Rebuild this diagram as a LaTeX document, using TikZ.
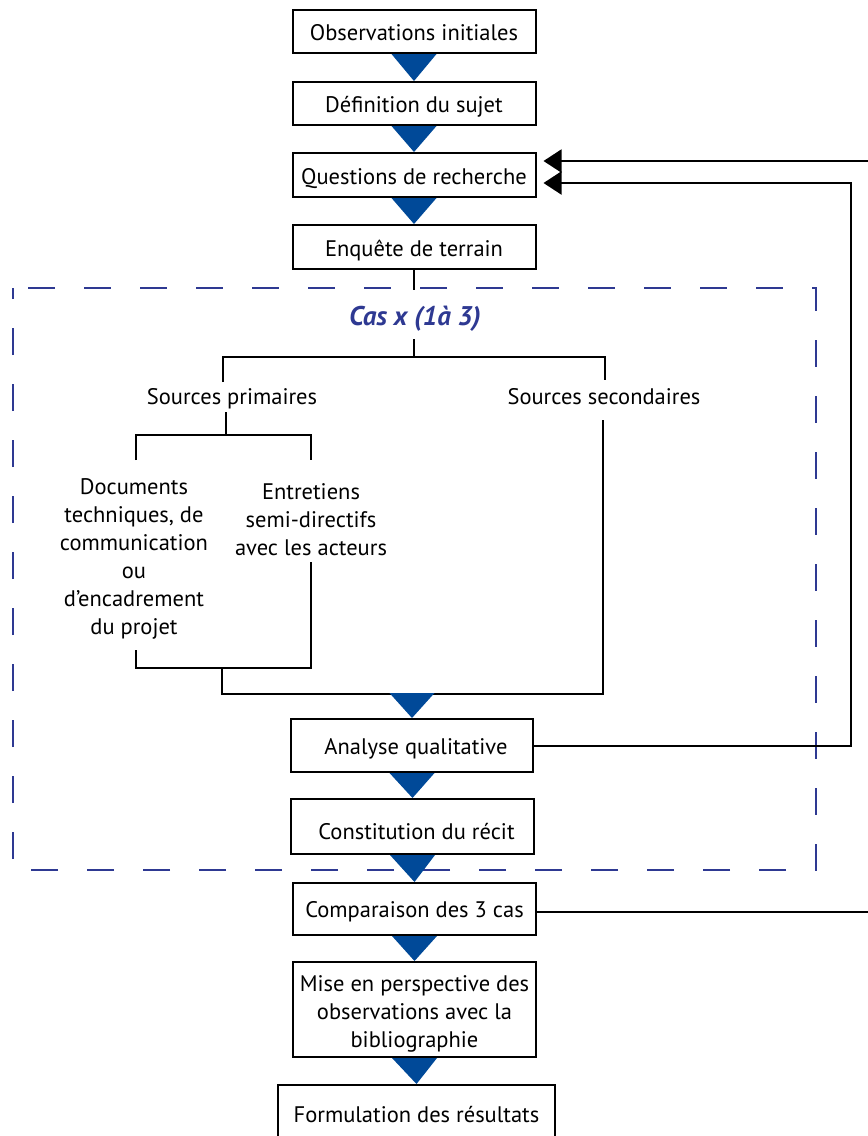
\documentclass[tikz,border=0pt]{standalone}
\usepackage{fontspec}
\setmainfont{PT Sans}
\usetikzlibrary{arrows.meta,calc}
\definecolor{triblue}{RGB}{0,73,152}
\definecolor{navy}{RGB}{46,57,146}
\newcommand{\lowerby}[2]{\raisebox{-#1}[\height][\depth]{#2}}
\begin{document}
\begin{tikzpicture}[x=1pt,y=-1pt,
  txt/.style={font=\fontsize{22.5}{28}\selectfont, inner sep=0pt, align=center},
  box/.style={draw=black, line width=2pt, minimum width=243pt, inner sep=0pt,
              font=\fontsize{22.5}{28}\selectfont, align=center},
  one/.style={text height=20pt, text depth=2pt},
  wire/.style={line width=2pt, black},
  tri/.style={fill=triblue},
  back/.style={wire, -{Triangle[length=18pt,width=23pt]}},
  dashbox/.style={draw=navy, line width=2pt, dash pattern=on 27pt off 29pt, dash phase=41pt}
]
\useasboundingbox (0,0) rectangle (868,1136);

% dashed frame
\draw[dashbox] (13,288) -- (816,288) -- (816,870) -- (13,870) -- cycle;

% main boxes
\node[box, one, minimum height=43pt] (b1) at (414,31.5) {Observations initiales};
\node[box, one, minimum height=43pt] (b2) at (414,103.5) {Définition du sujet};
\node[box, one, minimum height=44pt] (b3) at (414,175) {Questions de recherche};
\node[box, one, minimum height=44pt] (b4) at (414,247) {Enquête de terrain};
\node[box, minimum width=242pt, minimum height=53pt] (b5) at (412,745.5) {\lowerby{3pt}{\hspace{8pt}Analyse qualitative}};
\node[box, minimum height=55pt] (b6) at (412.5,826.5) {\lowerby{5pt}{\hspace{8pt}Constitution du récit}};
\node[box, minimum height=52pt] (b7) at (414.5,909) {\lowerby{3pt}{Comparaison des 3 cas}};
\node[box, minimum height=95pt] (b8) at (414.5,1009.5) {\lowerby{4pt}{\begin{tabular}{@{}c@{}}Mise en perspective des\\observations avec la\\bibliographie\end{tabular}}};
\node[box, minimum width=277pt, minimum height=60pt] (b9) at (416.5,1115) {Formulation des résultats};

% tree labels
\node[font=\fontsize{27}{30}\selectfont\bfseries\itshape, text=navy, inner sep=0pt] (cas) at (415,319) {Cas x (1à 3)};
\node[txt] (sp) at (232,399) {Sources primaires};
\node[txt] (ss) at (604,397) {Sources secondaires};
\node[txt] (doc) at (134,559) {Documents\\techniques, de\\communication\\ou\\d'encadrement\\du projet};
\node[txt] (ent) at (311,520) {Entretiens\\semi-directifs\\avec les acteurs};

% tree coordinates
\coordinate (c0) at (414,290);
\coordinate (c1) at (414,339);
\coordinate (c2) at (414,357);
\coordinate (spT) at (223,382);
\coordinate (ssT) at (605,380);
\coordinate (spB) at (226,412);
\coordinate (spJ) at (226,435);
\coordinate (docT) at (136,460);
\coordinate (entT) at (311,460);
\coordinate (docB) at (136,650);
\coordinate (entB) at (311,562);
\coordinate (jR) at (311,668);
\coordinate (jM) at (222,668);
\coordinate (hL) at (222,694);
\coordinate (ssB) at (603,420);
\coordinate (hR) at (603,694);

\draw[wire] (b4.south) -- (c0);
\draw[wire] (c1) -- (c2);
\draw[wire] (spT) |- (c2) -| (ssT);
\draw[wire] (spB) -- (spJ);
\draw[wire] (docT) |- (spJ) -| (entT);
\draw[wire] (docB) |- (jR) -- (entB);
\draw[wire] (jM) -- (hL) -- (hR) -- (ssB);

% feedback arrows
\coordinate (aR) at (851,745);
\coordinate (cR) at (869,912);
\draw[back] (b5.east) -| (aR |- {$(b3.east)+(0,8)$}) -- ($(b3.east)+(7,8)$);
\draw[back] (b7.east |- cR) -- (cR) -- (cR |- {$(b3.east)+(0,-14)$}) -- ($(b3.east)+(7,-14)$);

% blue triangles
\foreach \u/\l in {b1/b2,b2/b3,b3/b4,b5/b6,b6/b7,b7/b8,b8/b9}{
  \fill[tri] ($(\u.south)+(-22.5,0)$) -- ($(\u.south)+(22.5,0)$) -- (\l.north) -- cycle;
}
\fill[tri] ($(hL-|b5.north)+(-22.5,-1)$) -- ($(hL-|b5.north)+(22.5,-1)$) -- (b5.north) -- cycle;
\end{tikzpicture}
\end{document}
